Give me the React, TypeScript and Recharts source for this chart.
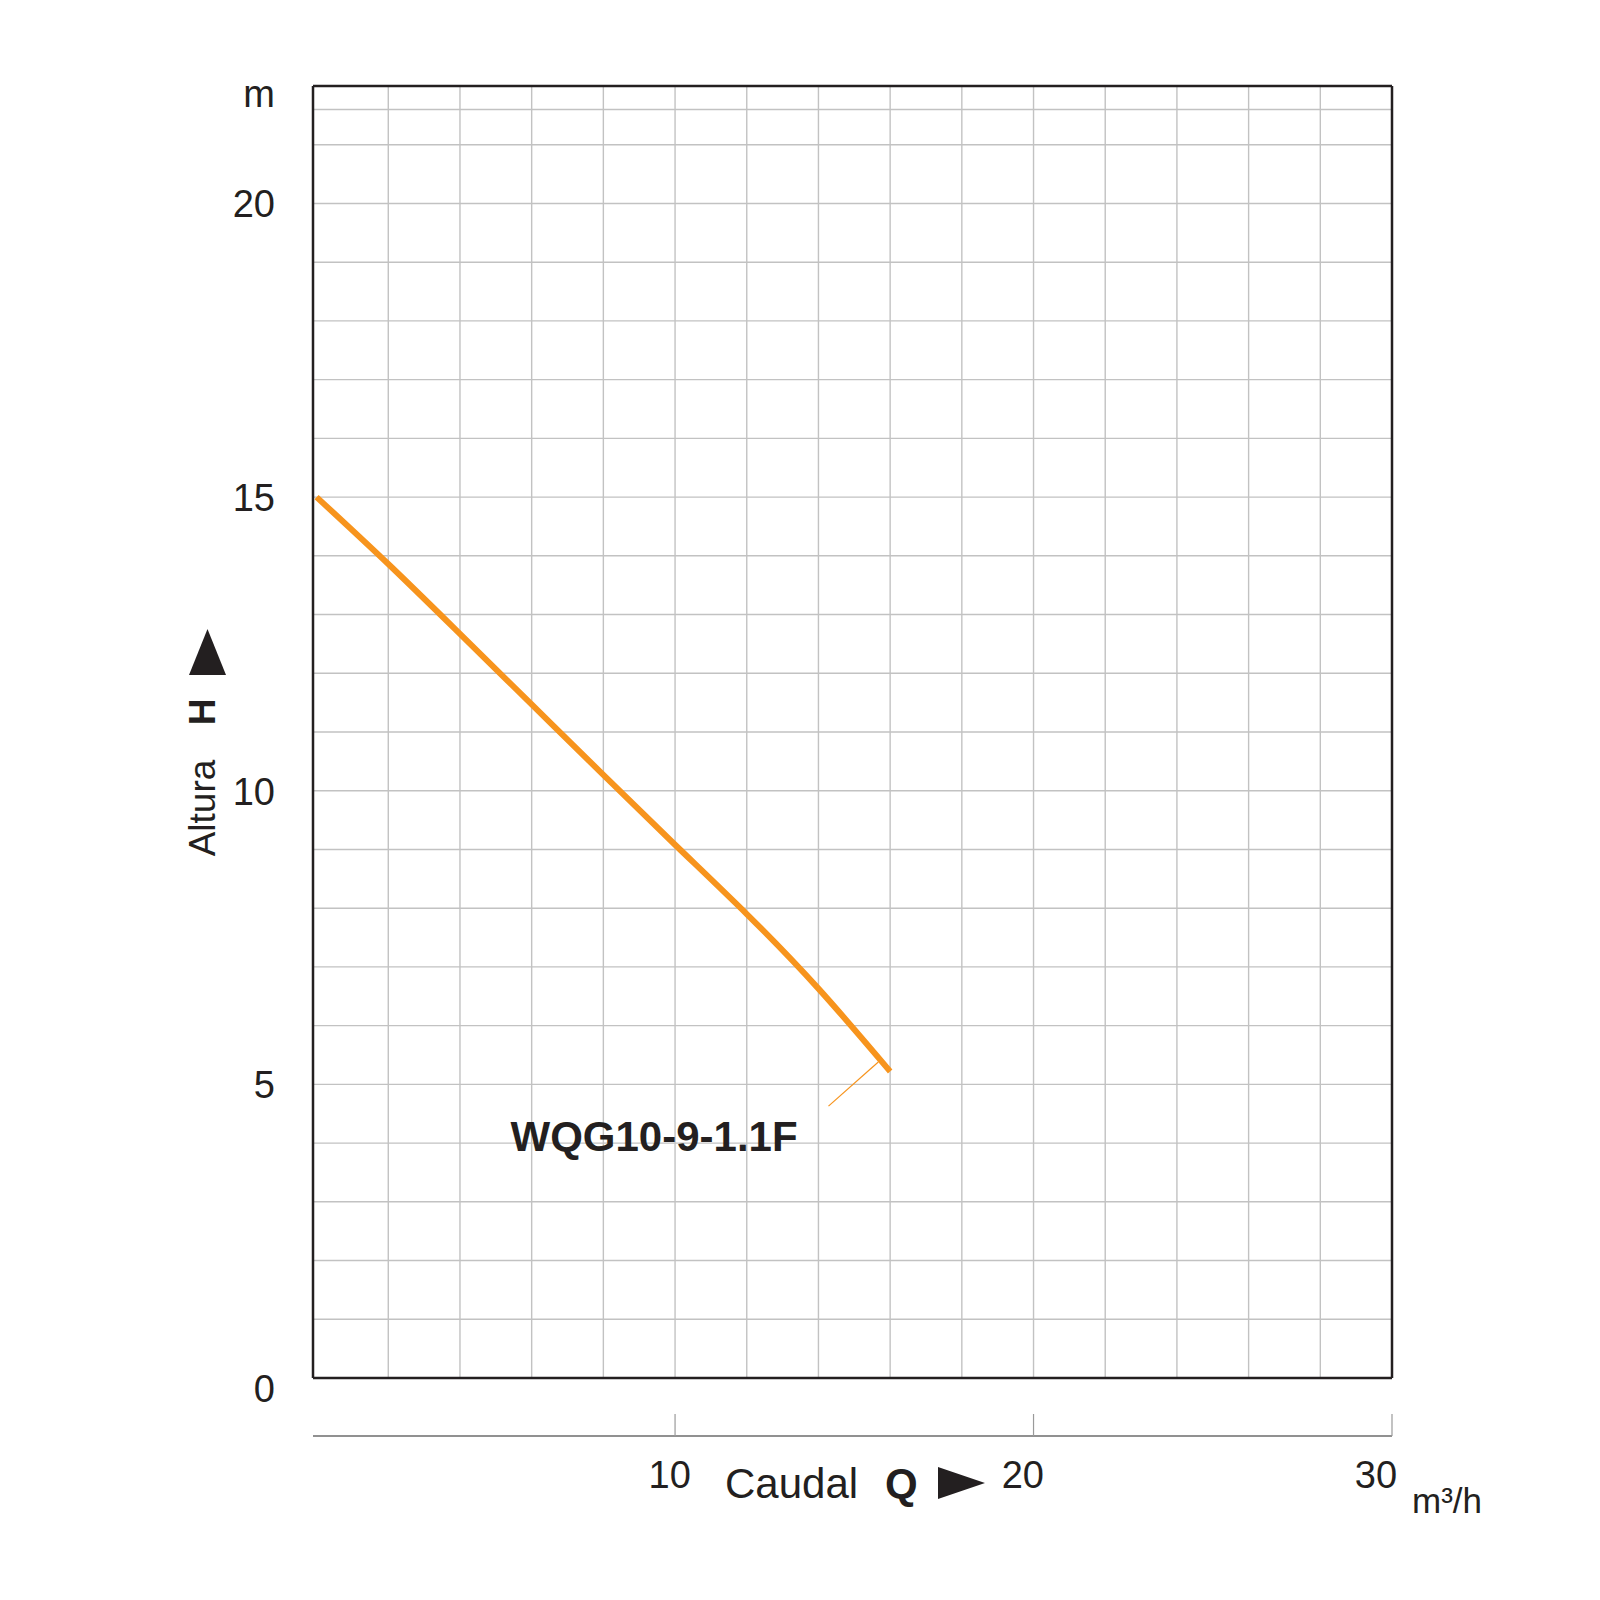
import React from "react";
import { LineChart, Line, XAxis, YAxis, ReferenceLine, ReferenceDot, Label } from "recharts";

// curva H-Q
const caudal = [0, 2, 4, 6, 8, 10, 12, 14, 16];
const altura = [15.0, 13.86, 12.67, 11.47, 10.27, 9.08, 7.9, 6.63, 5.22];

const xTicks = [10, 20, 30];
const yTicks = [0, 5, 10, 15, 20, 22];
const xGrid = [2, 4, 6, 8, 10, 12, 14, 16, 18, 20, 22, 24, 26, 28];
const yGrid = [1, 2, 3, 4, 5, 6, 7, 8, 9, 10, 11, 12, 13, 14, 15, 16, 17, 18, 19, 20, 21, 21.6];

const modelo = "WQG10-9-1.1F";
const modeloPos = { q: 5.41, h: 3.87 };
const guia = [
  { x: 15.67, y: 5.38 },
  { x: 14.28, y: 4.63 },
];

const data = caudal.map((q, i) => ({ q, h: altura[i] }));

const FONT = "'Liberation Sans', Arial, Helvetica, sans-serif";
const INK = "#231f20";
const ORANGE = "#F7941D";
const GRID = "#c2c2c2";

const YTick = ({ x, y, payload }: any) => {
  const v = payload.value;
  const off = v === 0 ? 24 : v === 22 ? 21 : 14;
  return (
    <text x={x} y={y + off} textAnchor="end" fontSize={38} fontFamily={FONT} fill={INK}>
      {v === 22 ? "m" : v}
    </text>
  );
};

const XTick = ({ x, y, payload }: any) => {
  const dx = -(payload.value / 30) * 16;
  return (
    <g>
      <line x1={x} x2={x} y1={y - 22} y2={y} stroke="#9a9a9a" strokeWidth={1.2} />
      <text x={x + dx} y={y + 52} textAnchor="middle" fontSize={38} fontFamily={FONT} fill={INK}>
        {payload.value}
      </text>
    </g>
  );
};

const YTitle = () => (
  <g fontFamily={FONT} fill={INK}>
    <text transform="translate(215, 808) rotate(-90)" textAnchor="middle" fontSize={37}>
      Altura
    </text>
    <text transform="translate(215, 712) rotate(-90)" textAnchor="middle" fontSize={37} fontWeight="bold">
      H
    </text>
    <polygon points="207.5,629 226,675 189,675" />
  </g>
);

const XTitle = () => (
  <g fontFamily={FONT} fill={INK}>
    <text x={725} y={1498} fontSize={42}>
      Caudal
    </text>
    <text x={885} y={1498} fontSize={42} fontWeight="bold">
      Q
    </text>
    <polygon points="938,1467 985,1483 938,1499" />
    <text x={1412} y={1513} fontSize={35}>
      m³/h
    </text>
  </g>
);

const ModeloLabel = ({ viewBox }: any) => (
  <text x={viewBox.x} y={viewBox.y} fontSize={42} fontWeight="bold" fontFamily={FONT} fill={INK}>
    {modelo}
  </text>
);

export default function App() {
  return (
    <div style={{ position: "absolute", left: 0, top: 0, width: 1600, height: 1600, background: "#fff" }}>
      <LineChart width={1600} height={1600} data={data} margin={{ top: 86, right: 208, bottom: 0, left: 0 }}>
        <XAxis
          xAxisId="gap"
          dataKey="q"
          type="number"
          domain={[-0.1, 30]}
          height={58}
          tick={false}
          axisLine={false}
          tickLine={false}
        />
        <XAxis
          xAxisId="q"
          dataKey="q"
          type="number"
          domain={[-0.1, 30]}
          ticks={xTicks}
          interval={0}
          height={164}
          tickSize={0}
          tickMargin={0}
          tickLine={false}
          axisLine={{ stroke: "#6d6d6d", strokeWidth: 1.5 }}
          tick={<XTick />}
        >
          <Label content={<XTitle />} />
        </XAxis>
        <YAxis
          type="number"
          domain={[0, 22]}
          ticks={yTicks}
          interval={0}
          width={313}
          tickSize={0}
          tickMargin={38}
          tickLine={false}
          axisLine={false}
          tick={<YTick />}
        >
          <Label content={<YTitle />} />
        </YAxis>

        {yGrid.map((v) => (
          <ReferenceLine key={"h" + v} xAxisId="q" y={v} stroke={GRID} strokeWidth={1.4} />
        ))}
        {xGrid.map((v) => (
          <ReferenceLine key={"v" + v} xAxisId="q" x={v} stroke={GRID} strokeWidth={1.4} />
        ))}
        <ReferenceLine xAxisId="q" x={-0.1} stroke={INK} strokeWidth={2.5} />
        <ReferenceLine xAxisId="q" x={30} stroke={INK} strokeWidth={2.5} />
        <ReferenceLine xAxisId="q" y={0} stroke={INK} strokeWidth={2.5} />
        <ReferenceLine xAxisId="q" y={22} stroke={INK} strokeWidth={2.5} />

        <ReferenceLine xAxisId="q" segment={guia} stroke={ORANGE} strokeWidth={1.2} />
        <ReferenceDot xAxisId="q" x={modeloPos.q} y={modeloPos.h} r={0} fill="none" stroke="none">
          <Label content={<ModeloLabel />} />
        </ReferenceDot>

        <Line
          xAxisId="q"
          type="natural"
          dataKey="h"
          stroke={ORANGE}
          strokeWidth={6}
          dot={false}
          activeDot={false}
          isAnimationActive={false}
        />
      </LineChart>
    </div>
  );
}
